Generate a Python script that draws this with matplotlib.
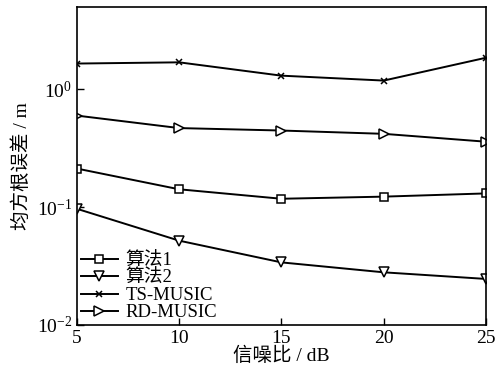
import matplotlib
matplotlib.use('Agg')
import matplotlib.pyplot as plt
from matplotlib.ticker import LogLocator, NullLocator

plt.rcParams['font.family'] = ['Liberation Serif', 'Noto Sans CJK SC']
plt.rcParams['mathtext.fontset'] = 'stix'

# 数据
snr = [5, 10, 15, 20, 25]
alg1 = [0.213, 0.142, 0.118, 0.123, 0.131]
alg2 = [0.097, 0.052, 0.034, 0.028, 0.0246]
ts_music = [1.66, 1.70, 1.31, 1.19, 1.86]
rd_music = [0.60, 0.47, 0.448, 0.42, 0.36]

fig = plt.figure(figsize=(4.99, 3.77), dpi=100)
ax = fig.add_axes([0.154, 0.138, 0.82, 0.843])

kw = dict(color='black', lw=1.4, markerfacecolor='white', markeredgewidth=1.1)
ax.plot(snr, alg1, marker='s', ms=5.5, label='算法1', **kw)
ax.plot(snr, alg2, marker='v', ms=6.5, label='算法2', **kw)
ax.plot(snr, ts_music, marker='x', ms=4, label='TS-MUSIC', **kw)
ax.plot(snr, rd_music, marker='>', ms=6.5, label='RD-MUSIC', **kw)

ax.set_yscale('log')
ax.set_xlim(5, 25)
ax.set_ylim(0.01, 5.0)
ax.set_xticks([5, 10, 15, 20, 25])
ax.yaxis.set_major_locator(LogLocator(base=10, numticks=5))
ax.yaxis.set_minor_locator(NullLocator())
ax.tick_params(direction='in', labelsize=14, length=5, width=1)
for s in ax.spines.values():
    s.set_linewidth(1.2)

ax.set_xlabel('信噪比 / dB', fontsize=14, labelpad=0)
ax.set_ylabel('均方根误差 / m', fontsize=14, labelpad=4)

ax.legend(loc='lower left', frameon=False, fontsize=13.5, handlelength=2.0,
          labelspacing=0.0, borderaxespad=0.1, borderpad=0.1,
          handletextpad=0.4)

fig.savefig('out.png', dpi=100)
